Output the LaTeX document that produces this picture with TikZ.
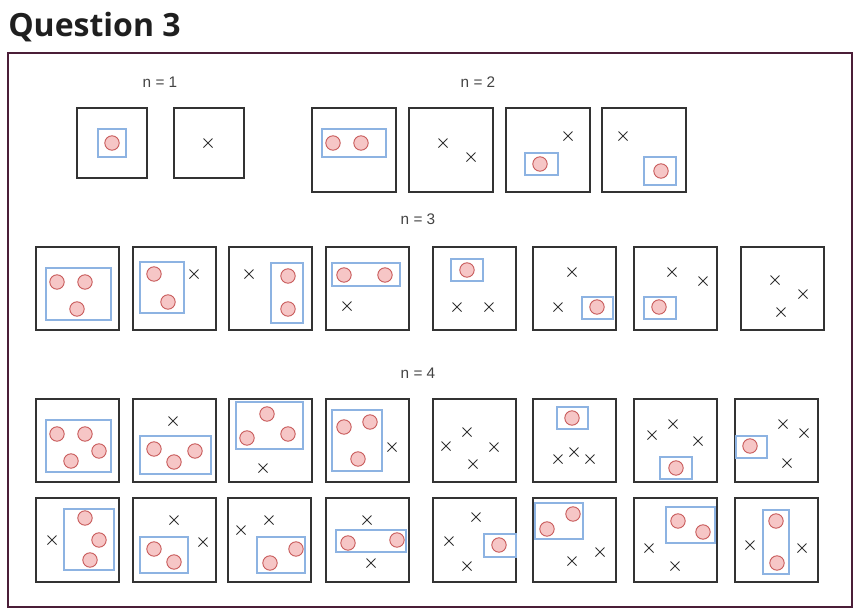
\documentclass[tikz,border=0pt]{standalone}
\usepackage{fontspec}
\setmainfont{Liberation Sans}
\newfontfamily\titlefont{Open Sans}
\usetikzlibrary{shapes.misc}
\definecolor{framecol}{HTML}{4B1E38}
\definecolor{boxgray}{HTML}{333333}
\definecolor{grpblue}{HTML}{8DB3E2}
\definecolor{balledge}{HTML}{C85A5A}
\definecolor{ballfill}{HTML}{F6C6C6}
\definecolor{labelgray}{HTML}{444444}
\tikzset{
  panelbox/.style={draw=boxgray, line width=1pt},
  grpbox/.style={draw=grpblue, line width=0.9pt},
  ball/.style={draw=balledge, fill=ballfill, line width=0.7pt},
  crs/.style={draw=boxgray, cross out, minimum size=6pt, inner sep=0pt, line width=0.75pt},
  nlabel/.style={font=\fontsize{11.5}{14}\selectfont, text=labelgray},
}

\begin{document}
\begin{tikzpicture}[x=0.75pt, y=-0.75pt]
    \useasboundingbox (0,0) rectangle (861,612);
    \fill[white] (0,0) rectangle (861,612);
    \node[anchor=base west, inner sep=0pt, font=\titlefont\bfseries\fontsize{24}{28}\selectfont, text=black!88] (title) at (8,36) {Question 3};
    \draw[framecol, line width=1.1pt] (8,53) rectangle (852,607);
    \node[nlabel] (n1) at (160,82) {n = 1};
    \node[nlabel] (n2) at (478,82) {n = 2};
    \node[nlabel] (n3) at (418,219) {n = 3};
    \node[nlabel] (n4) at (418,373) {n = 4};
    % panels
    \foreach \x in {77,174}
      \draw[panelbox] (\x,108) rectangle ++(70,70);
    \foreach \x in {312,409,506,602}
      \draw[panelbox] (\x,108) rectangle ++(84,84);
    \foreach \x in {36,133,229,326,433,533,634,741}
      \draw[panelbox] (\x,247) rectangle ++(83,83);
    \foreach \x in {36,133,229,326,433,533,634,735}
      \draw[panelbox] (\x,399) rectangle ++(83,83);
    \foreach \x in {36,133,228,326,433,533,634,735}
      \draw[panelbox] (\x,498) rectangle ++(83,84);
    % groups
    \foreach \p/\q in {{(98,129)}/{(126,157)}, {(322,129)}/{(386,157)}, {(525,153)}/{(558,175)},
        {(644,157)}/{(676,185)}, {(46,268)}/{(111,320)}, {(140,262)}/{(184,313)},
        {(271,263)}/{(303,323)}, {(332,263)}/{(400,286)}, {(451,259)}/{(483,281)},
        {(582,297)}/{(613,319)}, {(644,297)}/{(676,319)}, {(46,420)}/{(111,472)},
        {(140,436)}/{(211,474)}, {(236,402)}/{(303,449)}, {(332,410)}/{(382,471)},
        {(557,407)}/{(588,429)}, {(660,457)}/{(692,479)}, {(736,436)}/{(767,458)},
        {(64,509)}/{(114,570)}, {(140,537)}/{(188,573)}, {(257,537)}/{(305,573)},
        {(336,530)}/{(406,552)}, {(484,534)}/{(516,557)}, {(535,503)}/{(583,539)},
        {(666,507)}/{(715,543)}, {(763,510)}/{(789,574)}}
      \draw[grpbox] \p rectangle \q;
    % balls
    \foreach \p in {(112,143), (333,143),(361,143), (540,164), (661,171),
        (57,282),(85,282),(77,309), (154,274),(168,302), (288,276),(288,309),
        (344,275),(385,275), (467,270), (597,307), (659,307),
        (57,434),(85,434),(99,451),(71,461), (154,449),(174,462),(195,451),
        (267,414),(247,438),(288,434), (344,427),(370,422),(358,459),
        (572,418), (676,468), (750,446),
        (85,518),(99,540),(90,560), (154,549),(174,562), (296,549),(270,563),
        (348,543),(397,540), (499,545), (547,529),(573,514), (678,521),(703,532),
        (776,521),(777,563)}
      \draw[ball] \p circle[radius=5.4pt];
    % crosses
    \foreach \p in {(208,143), (443,143),(471,157), (568,136), (623,136),
        (194,274), (249,274), (347,306), (457,307),(489,307),
        (572,272),(558,307), (672,272),(703,281), (775,280),(803,294),(781,312),
        (173,421), (263,468), (392,447), (446,446),(467,432),(494,447),(473,464),
        (558,459),(574,452),(590,459), (652,435),(673,424),(698,441),
        (783,424),(804,433),(787,463),
        (52,540), (174,520),(203,542), (241,530),(269,520), (367,520),(371,563),
        (476,517),(449,541),(467,566), (572,561),(600,552), (649,548),(675,566),
        (750,545),(802,548)}
      \node[crs] at \p {};
  \end{tikzpicture}
\end{document}
